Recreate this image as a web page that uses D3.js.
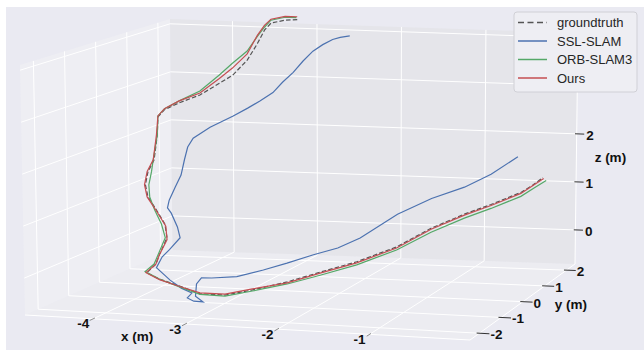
<!DOCTYPE html>
<html>
<head>
<meta charset="utf-8">
<script src="https://cdn.jsdelivr.net/npm/d3@7"></script>
<style>
  body { margin: 0; background: #fff; }
  svg text { font-family: "Liberation Sans", Arial, sans-serif; }
</style>
</head>
<body>
<div id="chart"></div>
<script>
// axis limits and ticks (metres)
const xLim = [-4.74, 0.09];
const yLim = [-2.43, 2.39];
const zLim = [-0.71, 4.10];
const xTicks = [-4, -3, -2, -1];
const yTicks = [-2, -1, 0, 1, 2];
const zTicks = [0, 1, 2, 3, 4];

const seriesNames = ['groundtruth', 'SSL-SLAM', 'ORB-SLAM3', 'Ours'];

// groundtruth trajectory
const gtX = [-3.20,-3.33,-3.48,-3.54,-3.59,-3.68,-3.82,-3.94,-4.12,-4.31,-4.45,-4.51,-4.47,-4.44,-4.48,-4.46,-4.40,-4.27,-4.14,-4.07,-4.11,-4.12,-4.19,-3.95,-3.62,-3.28,-3.00,-2.72,-2.39,-2.09,-1.76,-1.40,-1.10,-0.81,-0.58,-0.32,-0.24,-0.18];
const gtY = [2.29,2.25,2.20,2.15,2.05,1.96,1.86,1.76,1.62,1.47,1.38,1.33,1.19,0.99,0.90,0.75,0.66,0.56,0.46,0.32,0.17,0.08,-0.02,-0.31,-0.65,-0.98,-0.98,-0.89,-0.69,-0.45,-0.16,0.17,0.51,0.85,1.14,1.47,1.67,1.91];
const gtZ = [4.20,4.19,4.13,3.99,3.73,3.40,3.10,2.95,2.73,2.59,2.46,2.32,1.99,1.53,1.31,1.08,0.86,0.63,0.38,0.15,-0.16,-0.32,-0.47,-0.50,-0.51,-0.55,-0.55,-0.45,-0.32,-0.17,-0.02,0.21,0.51,0.72,0.85,1.02,1.11,1.21];

// SSL-SLAM
const sslX = [-2.58,-2.68,-2.76,-2.87,-2.97,-3.07,-3.17,-3.28,-3.38,-3.50,-3.61,-3.75,-3.97,-4.12,-4.15,-4.14,-4.13,-4.15,-4.17,-4.16,-4.10,-3.98,-3.92,-4.01,-4.06,-4.08,-3.83,-3.61,-3.43,-3.45,-3.35,-3.23,-3.33,-3.33,-3.29,-3.19,-2.94,-2.70,-2.49,-2.25,-2.03,-1.83,-1.50,-1.19,-0.89,-0.66,-0.45];
const sslY = [2.29,2.25,2.22,2.20,2.15,2.10,2.05,2.00,1.96,1.86,1.76,1.67,1.52,1.38,1.28,1.14,0.99,0.85,0.70,0.61,0.56,0.41,0.32,0.22,0.12,-0.02,-0.31,-0.60,-0.79,-0.89,-0.98,-1.03,-0.98,-0.94,-0.89,-0.84,-0.74,-0.55,-0.36,-0.16,0.03,0.22,0.56,0.85,1.14,1.43,1.81];
const sslZ = [3.90,3.87,3.83,3.72,3.59,3.39,3.16,2.96,2.75,2.59,2.46,2.31,2.10,1.90,1.74,1.52,1.24,1.03,0.80,0.67,0.58,0.35,0.16,-0.06,-0.18,-0.36,-0.51,-0.57,-0.60,-0.67,-0.70,-0.69,-0.60,-0.37,-0.26,-0.27,-0.25,-0.15,-0.05,0.08,0.18,0.34,0.75,1.01,1.18,1.38,1.65];

// ORB-SLAM3
const orbX = [-3.21,-3.33,-3.48,-3.54,-3.59,-3.68,-3.82,-3.94,-4.12,-4.31,-4.45,-4.51,-4.47,-4.45,-4.44,-4.42,-4.38,-4.29,-4.18,-4.09,-4.13,-4.14,-4.21,-3.95,-3.62,-3.28,-3.00,-2.72,-2.39,-2.09,-1.76,-1.40,-1.10,-0.81,-0.58,-0.32,-0.21,-0.14];
const orbY = [2.29,2.25,2.20,2.15,2.05,1.96,1.86,1.76,1.62,1.47,1.38,1.33,1.19,0.99,0.90,0.75,0.66,0.56,0.46,0.32,0.17,0.08,-0.02,-0.31,-0.65,-0.98,-0.98,-0.89,-0.69,-0.45,-0.16,0.17,0.51,0.85,1.14,1.47,1.67,1.91];
const orbZ = [4.24,4.25,4.19,4.05,3.88,3.59,3.35,3.12,2.81,2.63,2.48,2.34,1.99,1.53,1.31,1.08,0.86,0.63,0.38,0.15,-0.18,-0.32,-0.45,-0.50,-0.53,-0.56,-0.57,-0.47,-0.36,-0.23,-0.08,0.15,0.43,0.64,0.77,0.94,1.07,1.15];

// Ours
const oursX = [-3.20,-3.33,-3.48,-3.54,-3.59,-3.68,-3.82,-3.94,-4.12,-4.31,-4.45,-4.51,-4.48,-4.45,-4.49,-4.47,-4.41,-4.27,-4.13,-4.07,-4.11,-4.12,-4.20,-3.95,-3.62,-3.28,-3.00,-2.72,-2.39,-2.09,-1.76,-1.40,-1.10,-0.81,-0.58,-0.32,-0.25,-0.17];
const oursY = [2.29,2.25,2.20,2.15,2.05,1.96,1.86,1.76,1.62,1.47,1.38,1.33,1.19,0.99,0.90,0.75,0.66,0.56,0.46,0.32,0.17,0.08,-0.02,-0.31,-0.65,-0.98,-0.98,-0.89,-0.69,-0.45,-0.16,0.17,0.51,0.85,1.14,1.47,1.67,1.91];
const oursZ = [4.26,4.27,4.21,4.09,3.90,3.53,3.25,3.05,2.77,2.63,2.48,2.34,1.99,1.53,1.31,1.08,0.86,0.61,0.34,0.11,-0.16,-0.32,-0.47,-0.51,-0.52,-0.53,-0.53,-0.43,-0.34,-0.19,-0.04,0.19,0.49,0.70,0.83,1.00,1.09,1.19];

const width = 644, height = 350;
// legend box (top right, drawn over the z axis top)
const legendBox = { x: 514, y: 12, w: 123, h: 80 };

const svg = d3.select('#chart')
  .append('svg')
  .attr('width', width)
  .attr('height', height);

svg.append('rect')
  .attr('x', 6).attr('y', 7)
  .attr('width', width - 6).attr('height', height - 7)
  .attr('fill', '#eaeaf2');

// data -> unit cube
const xs = d3.scaleLinear().domain(xLim).range([0, 1]);
const ys = d3.scaleLinear().domain(yLim).range([0, 1]);
const zs = d3.scaleLinear().domain(zLim).range([0, 1]);

// where the 8 box corners land on screen (perspective view)
const box = {
  b00: [25, 315], b10: [470, 340], b01: [172.5, 250], b11: [575, 264],
  t00: [20, 65],  t10: [472, 85],  t01: [170, 19],    t11: [578, 33]
};

const lerp = (a, b, t) => [a[0] + (b[0] - a[0]) * t, a[1] + (b[1] - a[1]) * t];

function project(x, y, z) {
  const u = xs(x), v = ys(y), w = zs(z);
  const bot = lerp(lerp(box.b00, box.b10, u), lerp(box.b01, box.b11, u), v);
  const top = lerp(lerp(box.t00, box.t10, u), lerp(box.t01, box.t11, u), v);
  return lerp(bot, top, w);
}

const [x0, x1] = xLim, [y0, y1] = yLim, [z0, z1] = zLim;

// panes
const panes = [
  { pts: [[x0, y0, z0], [x1, y0, z0], [x1, y1, z0], [x0, y1, z0]], fill: '#ececf1' },
  { pts: [[x0, y0, z0], [x0, y1, z0], [x0, y1, z1], [x0, y0, z1]], fill: '#eeeef3' },
  { pts: [[x0, y1, z0], [x1, y1, z0], [x1, y1, z1], [x0, y1, z1]], fill: '#e5e5ea' }
];
svg.selectAll('.pane')
  .data(panes)
  .join('polygon')
  .attr('class', 'pane')
  .attr('points', d => d.pts.map(p => project(...p).join(',')).join(' '))
  .attr('fill', d => d.fill);

// grid lines
const grid = [];
yTicks.forEach(t => grid.push([[x0, t, z0], [x1, t, z0]]));
xTicks.forEach(t => grid.push([[t, y0, z0], [t, y1, z0]]));
xTicks.forEach(t => grid.push([[t, y1, z0], [t, y1, z1]]));
zTicks.forEach(t => grid.push([[x0, y1, t], [x1, y1, t]]));
yTicks.forEach(t => grid.push([[x0, t, z0], [x0, t, z1]]));
zTicks.forEach(t => grid.push([[x0, y0, t], [x0, y1, t]]));
// axis lines
grid.push([[x0, y0, z0], [x1, y0, z0]]);
grid.push([[x1, y0, z0], [x1, y1, z0]]);
grid.push([[x1, y1, z0], [x1, y1, z1]]);

svg.selectAll('.grid')
  .data(grid)
  .join('line')
  .attr('class', 'grid')
  .attr('x1', d => project(...d[0])[0])
  .attr('y1', d => project(...d[0])[1])
  .attr('x2', d => project(...d[1])[0])
  .attr('y2', d => project(...d[1])[1])
  .attr('stroke', '#fff')
  .attr('stroke-width', 1);

// ticks
const tickLines = [];
xTicks.forEach(t => tickLines.push({ a: [t, y0 - 0.12, z0], b: [t, y0 + 0.06, z0], c: '#8a8a8a' }));
yTicks.forEach(t => tickLines.push({ a: [x1 - 0.03, t, z0], b: [x1 + 0.11, t, z0], c: '#333' }));
zTicks.forEach(t => tickLines.push({ a: [x1 - 0.02, y1, t], b: [x1 + 0.09, y1, t], c: '#333' }));
svg.selectAll('.tick')
  .data(tickLines)
  .join('line')
  .attr('class', 'tick')
  .attr('x1', d => project(...d.a)[0])
  .attr('y1', d => project(...d.a)[1])
  .attr('x2', d => project(...d.b)[0])
  .attr('y2', d => project(...d.b)[1])
  .attr('stroke', d => d.c)
  .attr('stroke-width', 1);

// trajectories
const zip = (X, Y, Z) => X.map((x, i) => [x, Y[i], Z[i]]);
const series = [
  { name: seriesNames[0], pts: zip(gtX, gtY, gtZ), color: '#555555', dash: '4.5,2.2' },
  { name: seriesNames[1], pts: zip(sslX, sslY, sslZ), color: '#4c72b0', dash: null },
  { name: seriesNames[2], pts: zip(orbX, orbY, orbZ), color: '#55a868', dash: null },
  { name: seriesNames[3], pts: zip(oursX, oursY, oursZ), color: '#c44e52', dash: null }
];

const line = d3.line()
  .x(p => project(...p)[0])
  .y(p => project(...p)[1]);

svg.selectAll('.traj')
  .data(series)
  .join('path')
  .attr('class', 'traj')
  .attr('d', d => line(d.pts))
  .attr('fill', 'none')
  .attr('stroke', d => d.color)
  .attr('stroke-width', 1.2)
  .attr('stroke-dasharray', d => d.dash);

// tick labels
const labelStyle = sel => sel
  .attr('font-size', 13.5)
  .attr('font-weight', 'bold')
  .attr('fill', '#111')
  .attr('dominant-baseline', 'central');

svg.selectAll('.xlab')
  .data(xTicks)
  .join('text')
  .attr('class', 'xlab')
  .attr('x', t => project(t, y0, z0)[0] - 10)
  .attr('y', t => project(t, y0, z0)[1] + 5)
  .attr('text-anchor', 'middle')
  .text(t => t)
  .call(labelStyle);

svg.selectAll('.ylab')
  .data(yTicks)
  .join('text')
  .attr('class', 'ylab')
  .attr('x', t => project(x1 + 0.11, t, z0)[0] + 1)
  .attr('y', t => project(x1 + 0.11, t, z0)[1] + 1)
  .attr('text-anchor', 'start')
  .text(t => t)
  .call(labelStyle);

// z labels that would sit under the legend are hidden by it
const zVisible = zTicks.filter(t => project(x1 + 0.09, y1, t)[1] > legendBox.y + legendBox.h + 4);
svg.selectAll('.zlab')
  .data(zVisible)
  .join('text')
  .attr('class', 'zlab')
  .attr('x', t => project(x1 + 0.09, y1, t)[0] + 2)
  .attr('y', t => project(x1 + 0.09, y1, t)[1] + 1)
  .attr('text-anchor', 'start')
  .text(t => t)
  .call(labelStyle);

// axis titles
const titles = [
  { text: 'x (m)', at: project(-3.5, y0, z0), dx: -2, dy: 15 },
  { text: 'y (m)', at: project(x1, 0, z0), dx: 48, dy: 3 },
  { text: 'z (m)', at: project(x1, y1, 1.5), dx: 34, dy: 0 }
];
svg.selectAll('.title')
  .data(titles)
  .join('text')
  .attr('class', 'title')
  .attr('x', d => d.at[0] + d.dx)
  .attr('y', d => d.at[1] + d.dy)
  .attr('text-anchor', 'middle')
  .text(d => d.text)
  .call(labelStyle);

// legend
const legend = svg.append('g').attr('transform', `translate(${legendBox.x},${legendBox.y})`);
legend.append('rect')
  .attr('width', legendBox.w).attr('height', legendBox.h)
  .attr('rx', 3)
  .attr('fill', '#eeeef3')
  .attr('stroke', '#d0d0d6')
  .attr('stroke-width', 1);

const rows = legend.selectAll('.row')
  .data(series)
  .join('g')
  .attr('class', 'row')
  .attr('transform', (d, i) => `translate(0,${10.5 + i * 18.5})`);

rows.append('line')
  .attr('x1', 4).attr('x2', 33)
  .attr('stroke', d => d.color)
  .attr('stroke-width', 1.5)
  .attr('stroke-dasharray', d => d.dash ? '6,3.5' : null);

rows.append('text')
  .attr('x', 43)
  .attr('dominant-baseline', 'central')
  .attr('font-size', 13)
  .attr('fill', '#262626')
  .text(d => d.name);
</script>
</body>
</html>
